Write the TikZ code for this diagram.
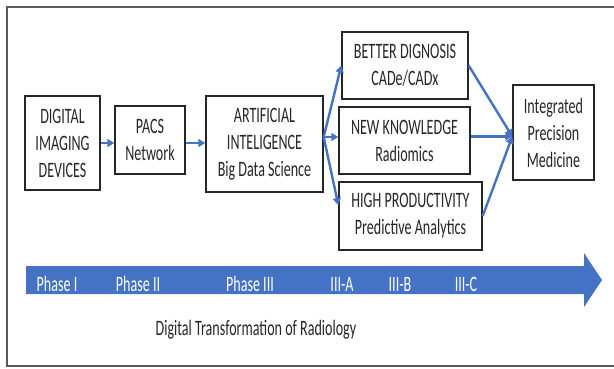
\documentclass[tikz,border=0pt]{standalone}
\usepackage{fontspec}
\setmainfont{Carlito}[FakeStretch=0.64]
\usetikzlibrary{arrows.meta}
\definecolor{flowblue}{HTML}{4472C4}
\definecolor{inkgray}{HTML}{262626}
\definecolor{framegray}{HTML}{5A5A5A}
\begin{document}
\begin{tikzpicture}[x=1pt,y=-1pt,
  stage/.style={draw=inkgray,line width=1.4pt,rectangle,inner sep=0pt,
    align=center,text=inkgray,font=\fontsize{22}{27}\selectfont},
  flow/.style={draw=flowblue,line width=2.4pt,
    -{Triangle[length=7pt,width=8pt]}},
  phase/.style={anchor=base,text=white,inner sep=0pt,
    font=\fontsize{22}{26}\selectfont}]
\useasboundingbox (0,0) rectangle (614,368);
% outer frame
\draw[framegray,line width=1.3pt] (7,7) rectangle (616,366);

% stages
\node[stage,minimum width=75pt,minimum height=94pt] (dig) at (62.5,143)
  {DIGITAL\\IMAGING\\DEVICES};
\node[stage,minimum width=70pt,minimum height=68pt] (pacs) at (150,140)
  {PACS\\Network};
\node[stage,minimum width=117pt,minimum height=96pt] (ai) at (264.5,144)
  {ARTIFICIAL\\INTELIGENCE\\Big Data Science};
\node[stage,minimum width=126pt,minimum height=67pt] (better) at (405,65.5)
  {BETTER DIGNOSIS\\CADe/CADx};
\node[stage,minimum width=131pt,minimum height=67pt] (know) at (404.5,140.5)
  {NEW KNOWLEDGE\\Radiomics};
\node[stage,minimum width=143pt,minimum height=68pt] (prod) at (410.5,216)
  {HIGH PRODUCTIVITY\\Predictive Analytics};
\node[stage,minimum width=81pt,minimum height=95pt] (integ) at (553.5,132.5)
  {Integrated\\Precision\\Medicine};

% connectors
\coordinate (fan) at ([yshift=7pt]ai.east);
\coordinate (join) at ([yshift=-4pt]integ.west);
\draw[flow] (dig.east) -- (dig.east -| pacs.west);
\draw[flow] ([yshift=-3pt]pacs.east) -- ([yshift=-3pt]pacs.east -| ai.west);
\draw[flow] (fan) -- (better.west);
\draw[flow] (fan) -- (fan -| know.west);
\draw[flow] (fan) -- ([yshift=11pt]prod.west);
\draw[flow] (better.east) -- (join);
\draw[flow] (know.east |- join) -- (join);
\draw[flow] (prod.east) -- (join);

% timeline arrow
\fill[flowblue] (26,266) -- (584,266) -- (584,253) -- (602,280)
  -- (584,307) -- (584,294) -- (26,294) -- cycle;
\node[phase] (p1) at (57,291) {Phase I};
\node[phase] (p2) at (138,291) {Phase II};
\node[phase] (p3) at (250,291) {Phase III};
\node[phase] (p3a) at (342,291) {III-A};
\node[phase] (p3b) at (400,291) {III-B};
\node[phase] (p3c) at (466,291) {III-C};

\node[anchor=base,text=inkgray,inner sep=0pt,font=\fontsize{22}{26}\selectfont]
  (title) at (256,335) {Digital Transformation of Radiology};
\end{tikzpicture}
\end{document}
